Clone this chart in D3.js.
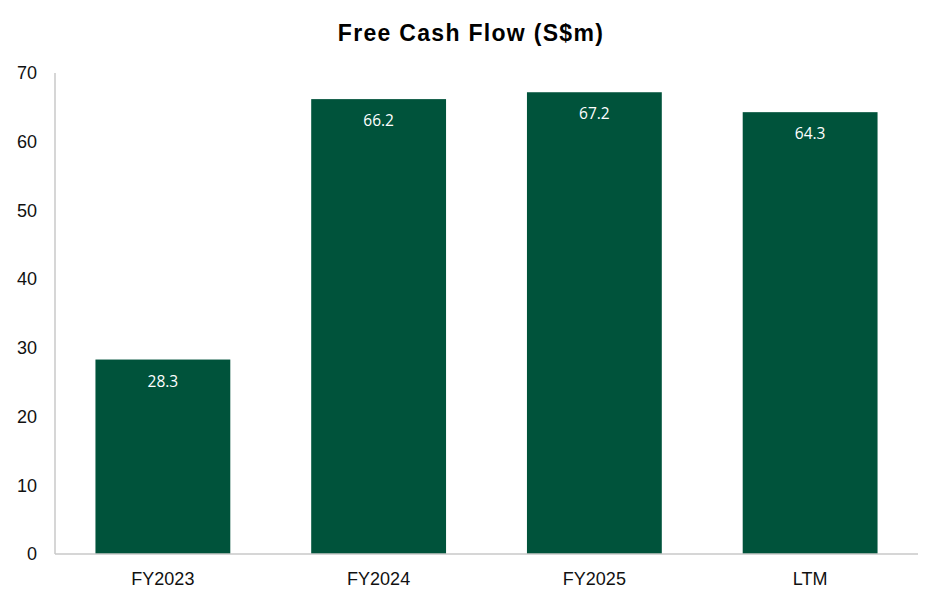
<!DOCTYPE html>
<html>
<head>
<meta charset="utf-8">
<script src="https://cdn.jsdelivr.net/npm/d3@7"></script>
<style>
  body { margin: 0; background: #fff; }
  .tick-label { font-family: "Liberation Sans", Arial, sans-serif; font-size: 18px; fill: #111; }
  .bar { fill: #00533B; }
  .value-label { font-family: "Open Sans", sans-serif; font-size: 15.5px; fill: #fff; }
</style>
</head>
<body>
<svg id="chart"></svg>
<script>
// chart values
var categories = ["FY2023", "FY2024", "FY2025", "LTM"];
var values = [28.3, 66.2, 67.2, 64.3];
var yTicks = [0, 10, 20, 30, 40, 50, 60, 70];

var width = 943, height = 603;
var margin = {top: 73, right: 25, bottom: 49, left: 55};

var svg = d3.select("#chart").attr("width", width).attr("height", height);

var x = d3.scaleBand()
  .domain(categories)
  .range([margin.left, width - margin.right])
  .paddingInner(0.375)
  .paddingOuter(0.1875);

var y = d3.scaleLinear()
  .domain([0, 70])
  .range([height - margin.bottom, margin.top]);

// title
svg.append("text")
  .attr("x", 471)
  .attr("y", 41)
  .attr("text-anchor", "middle")
  .style("font-family", "'Liberation Sans', Arial, sans-serif")
  .style("font-weight", "bold")
  .style("font-size", "23px")
  .style("letter-spacing", "1.3px")
  .style("fill", "#000")
  .text("Free Cash Flow (S$m)");

// y tick labels, no gridlines
svg.selectAll(".ytick")
  .data(yTicks)
  .enter().append("text")
  .attr("class", "tick-label")
  .attr("x", 37)
  .attr("y", function(d) { return y(d); })
  .attr("dy", "0.35em")
  .attr("text-anchor", "end")
  .text(function(d) { return d; });

// bars
svg.selectAll(".bar")
  .data(values)
  .enter().append("rect")
  .attr("class", "bar")
  .attr("x", function(d, i) { return x(categories[i]); })
  .attr("y", function(d) { return y(d); })
  .attr("width", x.bandwidth())
  .attr("height", function(d) { return y(0) - y(d); });

// value labels inside bar tops
svg.selectAll(".value-label")
  .data(values)
  .enter().append("text")
  .attr("class", "value-label")
  .attr("x", function(d, i) { return x(categories[i]) + x.bandwidth() / 2; })
  .attr("y", function(d) { return y(d) + 27; })
  .attr("text-anchor", "middle")
  .text(function(d) { return d.toFixed(1); });

// axis lines
svg.append("line")
  .attr("x1", margin.left).attr("x2", margin.left)
  .attr("y1", y(70)).attr("y2", y(0))
  .style("stroke", "#c8c8c8").style("stroke-width", 1.5);

svg.append("line")
  .attr("x1", margin.left).attr("x2", width - margin.right)
  .attr("y1", y(0)).attr("y2", y(0))
  .style("stroke", "#c8c8c8").style("stroke-width", 1.5);

// category labels
svg.selectAll(".xlabel")
  .data(categories)
  .enter().append("text")
  .attr("class", "tick-label")
  .attr("x", function(d) { return x(d) + x.bandwidth() / 2; })
  .attr("y", 585)
  .attr("text-anchor", "middle")
  .text(function(d) { return d; });
</script>
</body>
</html>
